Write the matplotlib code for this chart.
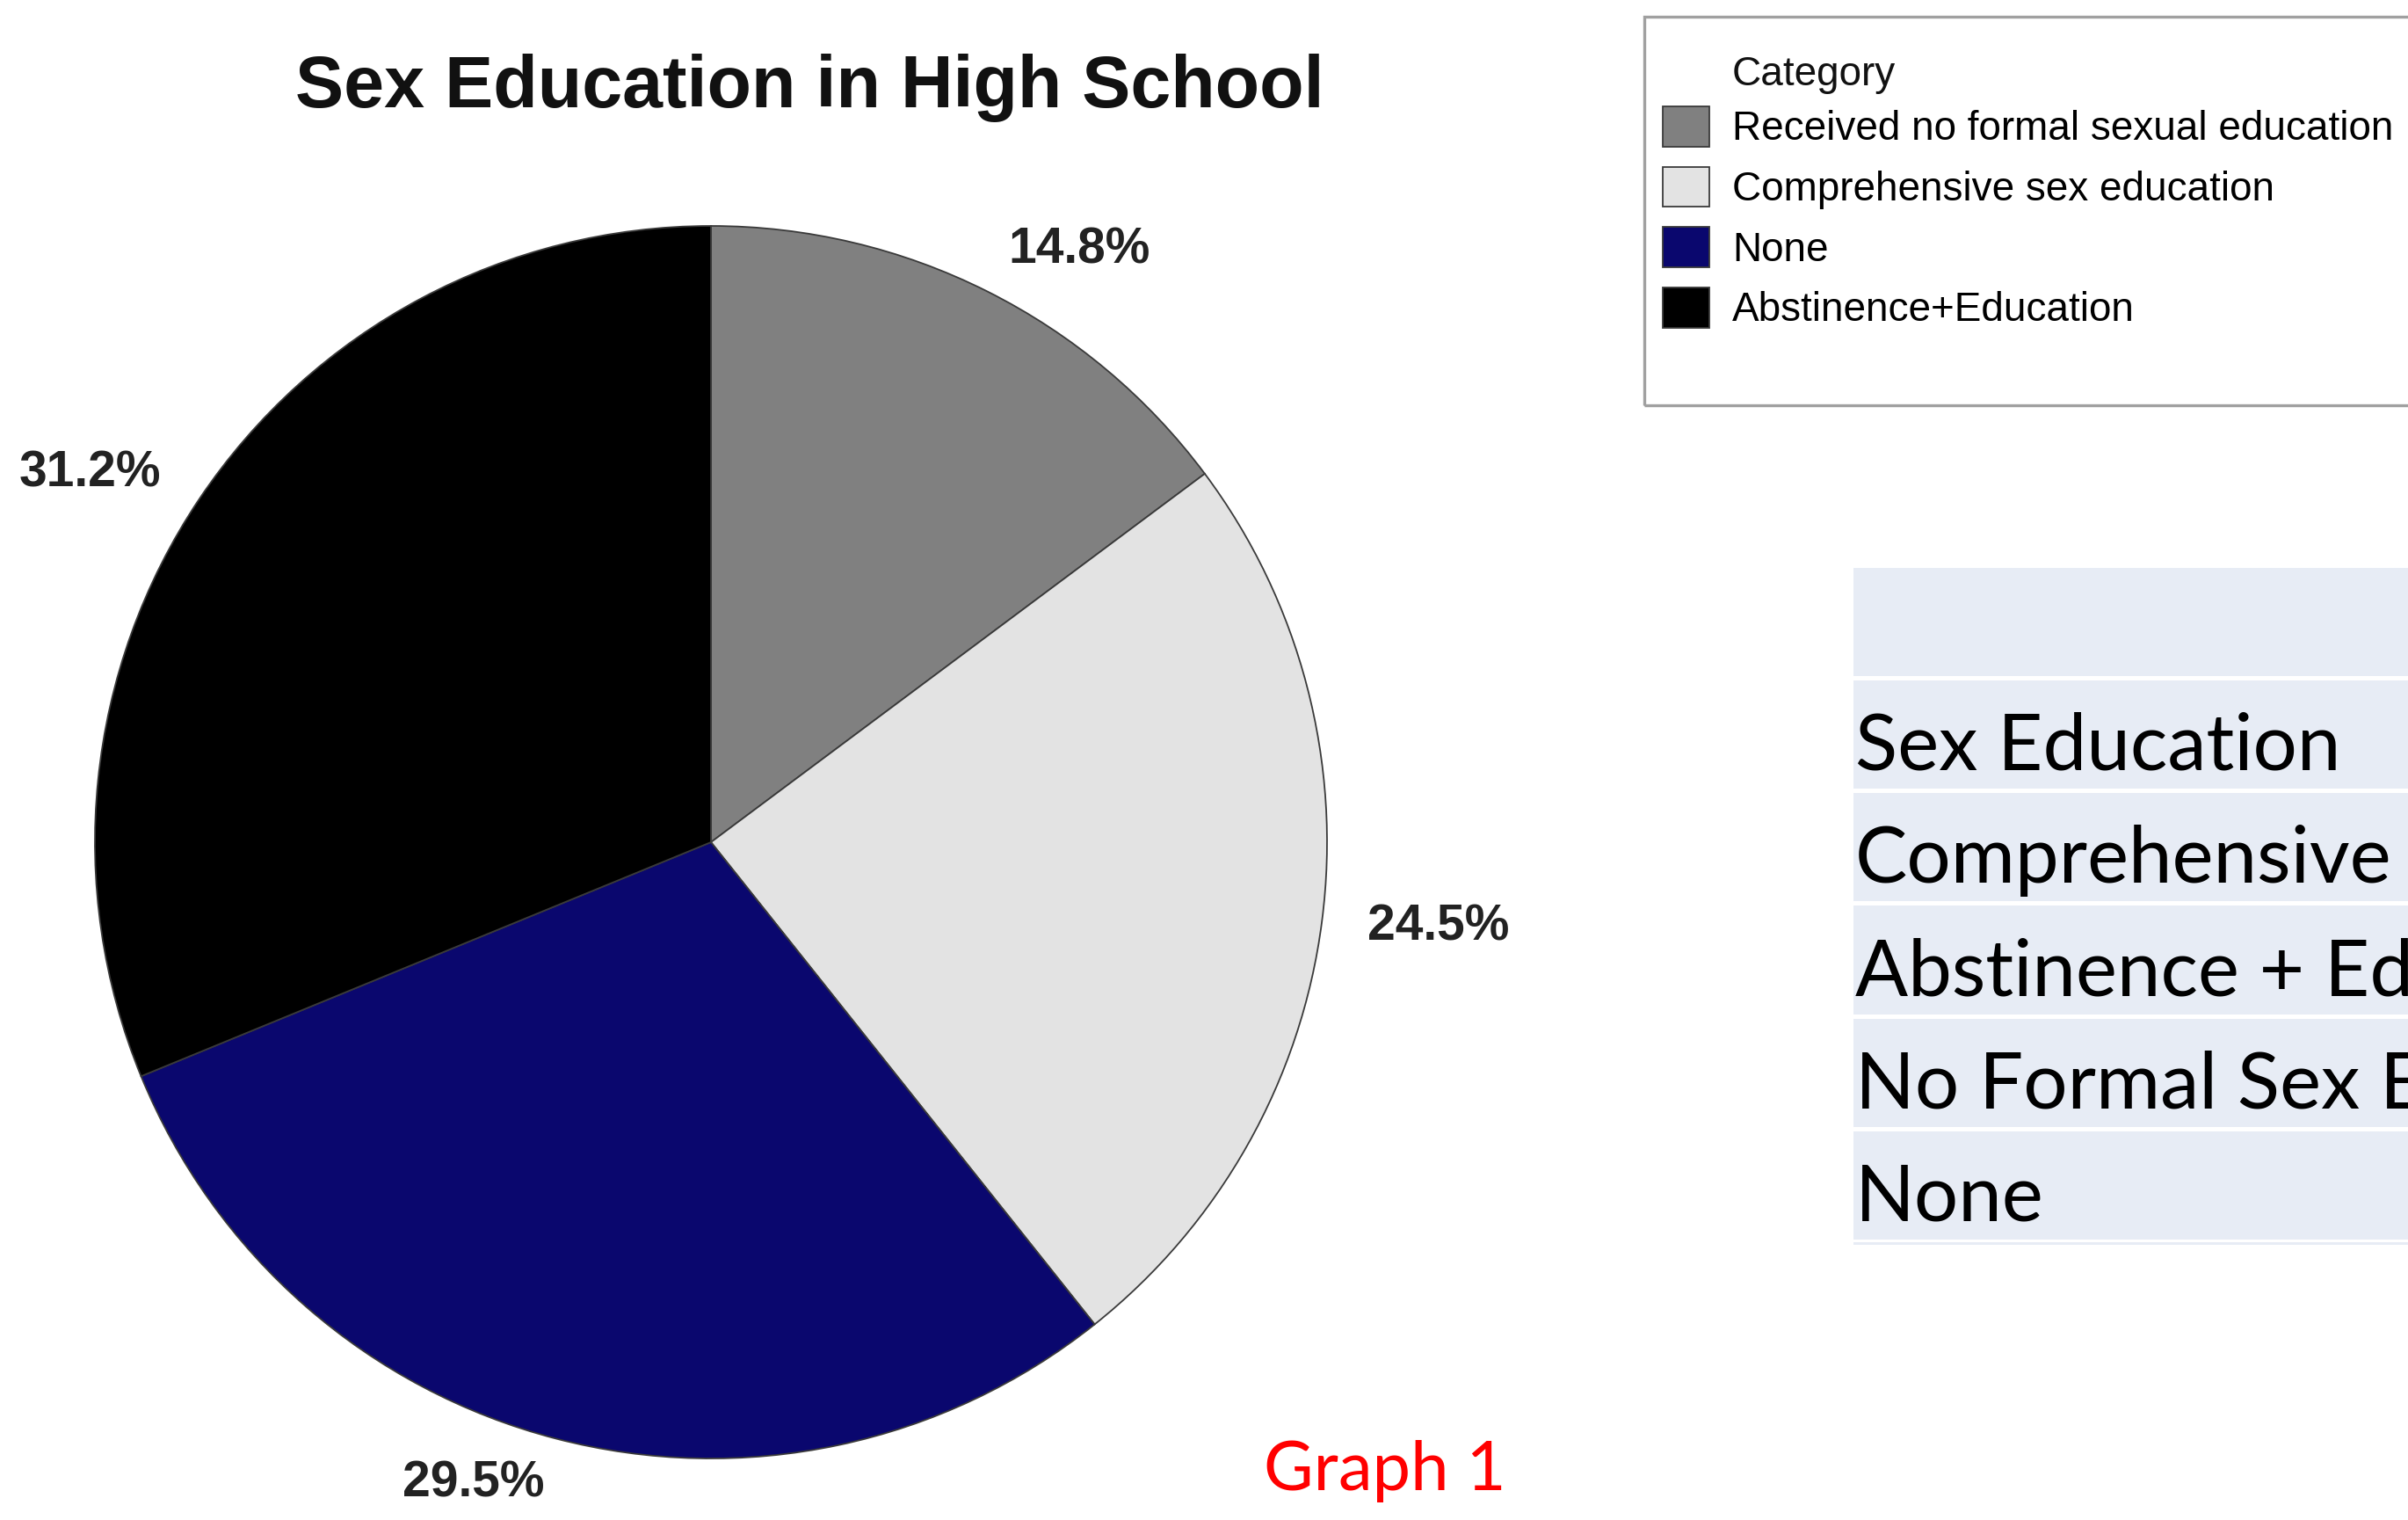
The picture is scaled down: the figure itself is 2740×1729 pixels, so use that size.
import matplotlib
matplotlib.use("Agg")
import matplotlib.pyplot as plt
from matplotlib.patches import Rectangle

# ---- data ----
categories = ["Received no formal sexual education", "Comprehensive sex education",
              "None", "Abstinence+Education"]
shares = [14.8, 24.5, 29.5, 31.2]
colors = ["#808080", "#E3E3E3", "#0A076E", "#000000"]
table_rows = ["", "Sex Education", "Comprehensive", "Abstinence + Education",
              "No Formal Sex Education", "None"]

W, H = 2740, 1729
DPI = 100
fig = plt.figure(figsize=(W / DPI, H / DPI), dpi=DPI)
fig.patch.set_facecolor("white")

def fx(px):
    return px / W

def fy(py):
    return 1 - py / H

# ---- pie ----
cx, cy, r = 809, 958, 701
ax = fig.add_axes([fx(cx - r), fy(cy + r), 2 * r / W, 2 * r / H])
labels = [f"{v}%" for v in shares]
wedges, texts = ax.pie(shares, colors=colors, startangle=90, counterclock=False,
                       labels=labels, labeldistance=1.075, radius=1,
                       wedgeprops=dict(edgecolor="#3a3a3a", linewidth=1.3),
                       textprops=dict(family="Liberation Sans", fontweight="bold",
                                      fontsize=41, color="#222222"))
ax.set_xlim(-1, 1)
ax.set_ylim(-1, 1)
ax.set_aspect("equal")
ax.axis("off")

# ---- title ----
fig.text(fx(921), fy(122), "Sex Education in High School", ha="center", va="baseline",
         family="Liberation Sans", fontweight="bold", fontsize=59.5, color="#111111")

# ---- legend ----
fig.add_artist(Rectangle((fx(1871), fy(461)), fx(2760) - fx(1871), fy(19) - fy(461),
                         transform=fig.transFigure, fill=False,
                         edgecolor="#a0a0a0", linewidth=2.4))
fig.text(fx(1971), fy(85), "Category", ha="left", va="center",
         family="Liberation Sans", fontsize=33, color="#111111")
fig.legend(handles=wedges, labels=categories, loc="upper left",
           bbox_to_anchor=(fx(1892), fy(121)), frameon=False,
           prop=dict(family="Liberation Sans", size=33),
           handlelength=1.16, handleheight=1.16, handletextpad=0.57,
           labelspacing=0.44, borderpad=0, borderaxespad=0)

# ---- table ----
t_top, t_bot = 643, 1416
tax = fig.add_axes([fx(2109), fy(t_bot), 1 - fx(2109), (t_bot - t_top) / H])
tax.set_xlim(0, 1)
pitch = 128.3
nrows = len(table_rows)
tax.set_ylim(t_bot - t_top, 0)
ys = [i * pitch for i in range(nrows)]
tax.barh([y + pitch / 2 for y in ys], [1] * nrows, height=pitch - 5, left=0,
         color="#E7ECF5")
tax.barh([nrows * pitch + 3.5], [1], height=7, left=0, color="#E7ECF5")
for y, lab in zip(ys, table_rows):
    tax.text(0.003, y + pitch - 24, lab, ha="left", va="baseline",
             family="Lato", fontsize=64, color="#000000", clip_on=True)
tax.axis("off")

# ---- caption ----
fig.text(fx(1438), fy(1695), "Graph 1", ha="left", va="baseline",
         family="Lato", fontsize=56, color="#FF0000")

fig.savefig("out.png", dpi=DPI)
